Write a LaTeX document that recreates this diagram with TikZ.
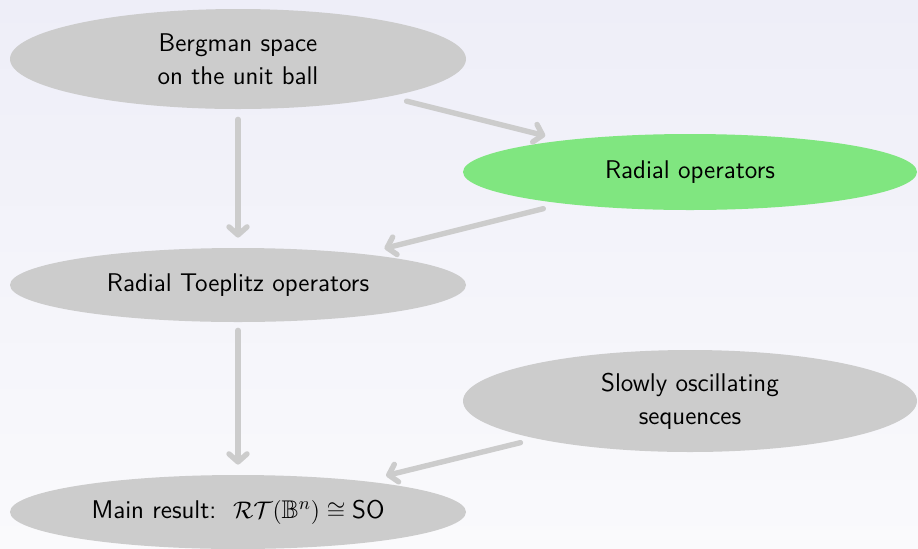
\documentclass[tikz,border=0pt]{standalone}
\usepackage{amssymb}
\usetikzlibrary{shapes.geometric,arrows.meta}
\renewcommand{\familydefault}{\sfdefault}
\definecolor{bgtop}{RGB}{238,238,248}
\definecolor{bgbot}{RGB}{250,250,252}
\definecolor{boxgray}{RGB}{204,204,204}
\definecolor{boxgreen}{RGB}{128,230,128}
\tikzset{
  blob/.style={ellipse, fill=boxgray, inner sep=0pt, align=center,
    font=\fontsize{12.8}{16.5}\selectfont},
  hot/.style={blob, fill=boxgreen},
  arr/.style={draw=boxgray, line width=2.7pt, line cap=round,
    -{Straight Barb[length=4pt,width=9pt,line cap=round,round]}},
}
\begin{document}
\begin{tikzpicture}[x=0.5pt,y=-0.5pt]
\shade[top color=bgtop, bottom color=bgbot] (0,0) rectangle (918,548);
\useasboundingbox (0,0) rectangle (918,548);
\node[blob, minimum width=228pt, minimum height=50pt] (berg) at (238,59) {Bergman space\\on the unit ball};
\node[hot, minimum width=227pt, minimum height=38pt] (radop) at (690,172) {Radial operators};
\node[blob, minimum width=228pt, minimum height=37pt] (toep) at (238,285) {Radial Toeplitz operators};
\node[blob, minimum width=227pt, minimum height=51pt] (slow) at (690,401) {Slowly oscillating\\sequences};
\node[blob, minimum width=228pt, minimum height=37pt] (main) at (238,512) {Main result:\ \ $\mathcal{RT}(\mathbb{B}^n)\cong\textsf{SO}$};
\draw[arr, shorten <=5pt, shorten >=5pt] (berg.south) -- (toep.north);
\draw[arr, shorten <=4pt, shorten >=5pt] (toep.south) -- (main.north);
\draw[arr, shorten <=9pt, shorten >=9pt] (berg) -- (radop);
\draw[arr, shorten <=10pt, shorten >=11pt] (radop) -- (toep);
\draw[arr, shorten <=8pt, shorten >=11pt] (slow) -- (main);
\end{tikzpicture}
\end{document}
